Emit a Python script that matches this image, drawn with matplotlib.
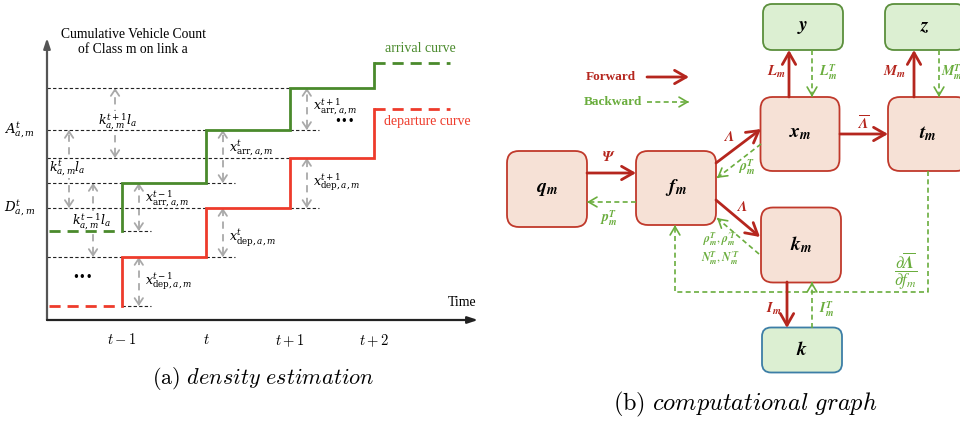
import matplotlib.pyplot as plt
from matplotlib.patches import FancyBboxPatch
import numpy as np

plt.rcParams['font.family'] = ['Liberation Serif', 'DejaVu Serif']

# ---------------- panel (a) data: cumulative counts (arbitrary units) ----------------
step_ticks = [1, 2, 3, 4]
tick_labels = [r'$t-1$', r'$t$', r'$t+1$', r'$t+2$']
arrival = [8.9, 13.7, 19.0, 23.2, 25.7]
departure = [1.4, 6.3, 11.2, 16.2, 21.1]
sups = ['t-1', 't', 't+1']
arr_label_y = [12.2, 17.2, 21.4]
dep_label_y = [3.9, 8.2, 13.8]
k_arrow_x = [0.655, 0.37, 0.917]
k_label_xy = [(0.643, 9.9), (0.345, 15.2), (0.952, 19.9)]

# ---------------- panel (b) data: computational graph ----------------
node_labels = [r'$\mathbfit{q}_{\mathbfit{m}}$', r'$\mathbfit{f}_{\mathbfit{m}}$',
               r'$\mathbfit{x}_{\mathbfit{m}}$', r'$\mathbfit{k}_{\mathbfit{m}}$',
               r'$\mathbfit{t}_{\mathbfit{m}}$', r'$\mathbfit{y}$', r'$\mathbfit{z}$',
               r'$\mathbfit{k}$']
node_xy = [(547, 189), (676, 188), (800, 134), (801, 245), (928, 134),
           (803, 27), (925, 27), (802, 350)]
node_wh = [(80, 76), (80, 74), (79, 74), (80, 75), (80, 74), (80, 46), (80, 46), (80, 45)]
node_kind = ['state', 'state', 'state', 'state', 'state', 'obs', 'obs', 'obs2']

fwd_edges = [((587, 173), (636, 173)), ((716, 163), (761, 129)), ((716, 200), (760, 237)),
             ((789, 97), (789, 50)), ((914, 97), (914, 50)), ((840, 134), (888, 134)),
             ((787, 282), (787, 328))]
fwd_labels = [r'$\mathbfit{\Psi}$', r'$\mathbfit{\Lambda}$', r'$\mathbfit{\Lambda}$',
              r'$\mathbfit{L}_{\mathbfit{m}}$', r'$\mathbfit{M}_{\mathbfit{m}}$',
              r'$\overline{\mathbfit{\Lambda}}$', r'$\mathbfit{I}_{\mathbfit{m}}$']
fwd_label_xy = [(609, 157), (729, 137), (742, 207), (776, 72), (895, 72), (863, 124), (774, 309)]

bwd_edges = [((636, 202), (587, 202)), ((761, 144), (717, 178)), ((759, 254), (717, 218)),
             ((812, 50), (812, 97)), ((939, 50), (939, 97)), ((812, 328), (812, 282))]
bwd_labels = [r'$\mathbfit{p}^{\mathbfit{T}}_{\mathbfit{m}}$',
              r'$\mathbfit{\rho}^{\mathbfit{T}}_{\mathbfit{m}}$',
              r"$\mathbfit{\rho}^{\mathbfit{T}}_{\mathbfit{m}},\mathbfit{\rho}^{\prime\mathbfit{T}}_{\mathbfit{m}}$" + '\n' +
              r"$\mathbfit{N}^{\mathbfit{T}}_{\mathbfit{m}},\mathbfit{N}^{\prime\mathbfit{T}}_{\mathbfit{m}}$",
              r'$\mathbfit{L}^{\mathbfit{T}}_{\mathbfit{m}}$', r'$\mathbfit{M}^{\mathbfit{T}}_{\mathbfit{m}}$',
              r'$\mathbfit{I}^{\mathbfit{T}}_{\mathbfit{m}}$']
bwd_label_xy = [(609, 218), (747, 167), (720, 249), (828, 72), (952, 72), (827, 309)]
loop_path = [(928, 171), (928, 292), (675, 292), (675, 225)]

RED = '#b5261e'
GREEN = '#6aad3d'
ARR_GREEN = '#4a8a2c'
DEP_RED = '#ee3b2b'
GRAY = '#a9a9a9'

fig = plt.figure(figsize=(9.6, 4.3), dpi=100)
ov = fig.add_axes([0, 0, 1, 1])
ov.set_xlim(0, 960)
ov.set_ylim(430, 0)
ov.axis('off')

# ======================= panel (a) =======================
axl = fig.add_axes([47 / 960, 110 / 430, 431 / 960, 282 / 430])
axl.patch.set_alpha(0)
xlo, xhi = 0.107, 5.238
axl.set_xlim(xlo, xhi)
axl.set_ylim(0, 28.2)
for s in axl.spines.values():
    s.set_visible(False)
axl.set_yticks([])
axl.set_xticks(step_ticks)
axl.set_xticklabels(tick_labels, fontsize=10.5)
for lab in axl.get_xticklabels():
    lab.set_math_fontfamily('cm')
axl.tick_params(axis='x', length=0, pad=9)

# axes with arrows
axl.annotate('', xy=(0, 1.0), xytext=(0, 0), xycoords='axes fraction',
             arrowprops=dict(arrowstyle='-|>,head_length=0.6,head_width=0.2', color='#555555',
                             lw=1.6, shrinkA=0, shrinkB=0, mutation_scale=10))
axl.annotate('', xy=(1.0, 0), xytext=(0, 0), xycoords='axes fraction',
             arrowprops=dict(arrowstyle='-|>,head_length=0.6,head_width=0.2', color='#222222',
                             lw=1.6, shrinkA=0, shrinkB=0, mutation_scale=10))

guide = dict(color='#222222', lw=0.8, linestyle=(0, (3, 2)), zorder=2)
for i in range(1, 4):
    axl.hlines(arrival[i], xlo, step_ticks[i - 1], **guide)
    axl.hlines(departure[i], xlo, step_ticks[i - 1], **guide)
for i in range(3):
    axl.hlines(arrival[i], step_ticks[i], step_ticks[i] + 0.35, **guide)
    axl.hlines(departure[i], step_ticks[i], step_ticks[i] + 0.35, **guide)


def step_curve(levels, color):
    xs, ys = [], []
    for i, t in enumerate(step_ticks):
        xs += [t, t]
        ys += [levels[i], levels[i + 1]]
        if i < len(step_ticks) - 1:
            xs.append(step_ticks[i + 1])
            ys.append(levels[i + 1])
    axl.plot([xlo + 0.02, step_ticks[0] - 0.03], [levels[0]] * 2, color=color, lw=2,
             linestyle=(0, (4, 2.5)), zorder=3)
    axl.plot(xs, ys, color=color, lw=2, solid_joinstyle='miter', zorder=3)
    axl.plot([step_ticks[-1], 4.9], [levels[-1]] * 2, color=color, lw=2,
             linestyle=(0, (4, 2.5)), zorder=3)


step_curve(arrival, ARR_GREEN)
step_curve(departure, DEP_RED)


def gray_arrow(x, lo, hi):
    axl.plot([x, x], [lo + 0.3, hi - 0.3], color=GRAY, lw=1.3, linestyle=(0, (4, 3)), zorder=1)
    hp = dict(arrowstyle='->,head_length=0.45,head_width=0.3', color=GRAY, lw=1.3,
              shrinkA=0, shrinkB=0, mutation_scale=10)
    axl.annotate('', xy=(x, hi), xytext=(x, hi - 0.3), arrowprops=hp, zorder=1)
    axl.annotate('', xy=(x, lo), xytext=(x, lo + 0.3), arrowprops=hp, zorder=1)


mkw = dict(fontsize=9, math_fontfamily='dejavuserif')
for i in range(3):
    gray_arrow(step_ticks[i] + 0.2, arrival[i], arrival[i + 1])
    gray_arrow(step_ticks[i] + 0.2, departure[i], departure[i + 1])
    axl.text(step_ticks[i] + 0.27, arr_label_y[i],
             r'$x^{%s}_{\mathrm{arr},a,m}$' % sups[i], ha='left', va='center', **mkw)
    axl.text(step_ticks[i] + 0.27, dep_label_y[i],
             r'$x^{%s}_{\mathrm{dep},a,m}$' % sups[i], ha='left', va='center', **mkw)
    gray_arrow(k_arrow_x[i], departure[i + 1], arrival[i + 1])
    axl.text(k_label_xy[i][0], k_label_xy[i][1], r'$k^{%s}_{a,m}l_a$' % sups[i],
             ha='center', va='center', bbox=dict(fc='white', ec='none', pad=0.2),
             zorder=1.5, **mkw)

axl.text(-0.063, arrival[2], r'$A^t_{a,m}$', transform=axl.get_yaxis_transform(),
         ha='center', va='center', fontsize=9.5, math_fontfamily='dejavuserif')
axl.text(-0.063, departure[2], r'$D^t_{a,m}$', transform=axl.get_yaxis_transform(),
         ha='center', va='center', fontsize=9.5, math_fontfamily='dejavuserif')
axl.text(0.2, 0.985, 'Cumulative Vehicle Count\nof Class m on link a', transform=axl.transAxes,
         ha='center', va='center', fontsize=9.8, linespacing=1.15)
axl.text(5.05, 1.7, 'Time', ha='center', va='center', fontsize=10)
axl.text(4.55, 27.2, 'arrival curve', ha='center', va='center', fontsize=10, color=ARR_GREEN)
axl.text(4.64, 19.8, 'departure curve', ha='center', va='center', fontsize=10, color=DEP_RED)
axl.text(0.536, 4.2, '•••', ha='center', va='center', fontsize=8.5, family='DejaVu Sans')
axl.text(3.655, 19.8, '•••', ha='center', va='center', fontsize=8.5, family='DejaVu Sans')

ov.text(263, 379, r'$\mathrm{(a)}\ \mathit{density\ estimation}$', ha='center', va='center',
        fontsize=16, math_fontfamily='cm')

# ======================= panel (b) =======================
fills = {'state': ('#f6e1d6', '#c0392b'), 'obs': ('#dcefd2', '#5b8f3c'), 'obs2': ('#dcefd2', '#3d7ea6')}
for lab, (cx, cy), (w, h), kind in zip(node_labels, node_xy, node_wh, node_kind):
    fc, ec = fills[kind]
    r = 12 if h > 60 else 9
    ov.add_patch(FancyBboxPatch((cx - w / 2, cy - h / 2), w, h,
                                boxstyle='round,pad=0,rounding_size=%d' % r,
                                fc=fc, ec=ec, lw=1.3))
    ov.text(cx, cy, lab, ha='center', va='center', fontsize=14, math_fontfamily='stix')


def solid_arrow(p0, p1):
    ov.annotate('', xy=p1, xytext=p0,
                arrowprops=dict(arrowstyle='->,head_length=0.7,head_width=0.4', color=RED,
                                lw=2, shrinkA=0, shrinkB=0, mutation_scale=12))


def dashed_arrow(pts):
    pts = np.array(pts, dtype=float)
    ov.plot(pts[:, 0], pts[:, 1], color=GREEN, lw=1.2, linestyle=(0, (3, 2)))
    d = pts[-1] - pts[-2]
    d = d / np.hypot(*d)
    ov.annotate('', xy=tuple(pts[-1]), xytext=tuple(pts[-1] - 2 * d),
                arrowprops=dict(arrowstyle='->,head_length=0.6,head_width=0.35', color=GREEN,
                                lw=1.2, shrinkA=0, shrinkB=0, mutation_scale=10))


for (p0, p1), lab, (lx, ly) in zip(fwd_edges, fwd_labels, fwd_label_xy):
    solid_arrow(p0, p1)
    ov.text(lx, ly, lab, ha='center', va='center', fontsize=10.5, color=RED, math_fontfamily='stix')

for (p0, p1), lab, (lx, ly) in zip(bwd_edges, bwd_labels, bwd_label_xy):
    dashed_arrow([p0, p1])
    ov.text(lx, ly, lab, ha='center', va='center', fontsize=10 if '\n' not in lab else 8.5,
            color=GREEN, math_fontfamily='stix', linespacing=1.1)

dashed_arrow(loop_path)
ov.text(906, 271, r'$\dfrac{\partial\overline{\mathbfit{\Lambda}}}{\partial f_m}$', ha='center',
        va='center', fontsize=12, color=GREEN, math_fontfamily='stix')

# legend
ov.text(611, 77, 'Forward', ha='center', va='center', fontsize=9.5, fontweight='bold', color=RED)
solid_arrow((647, 77), (689, 77))
ov.text(613, 102, 'Backward', ha='center', va='center', fontsize=9.5, fontweight='bold', color=GREEN)
dashed_arrow([(647, 102), (689, 102)])

ov.text(745, 404, r'$\mathrm{(b)}\ \mathit{computational\ graph}$', ha='center', va='center',
        fontsize=17.5, math_fontfamily='cm')

fig.savefig('out.png', dpi=100)
